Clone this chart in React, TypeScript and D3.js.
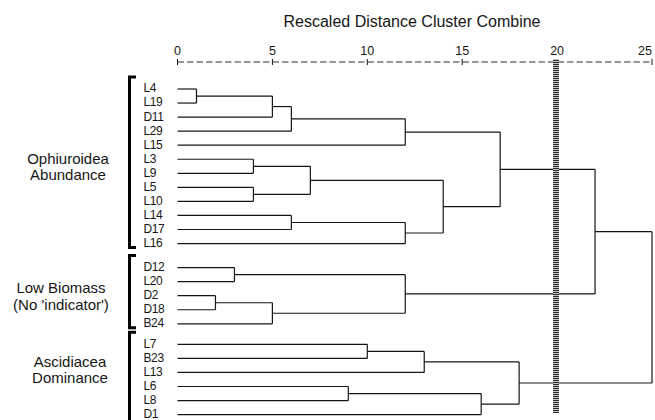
import React, { useEffect, useRef } from "react";
import * as d3 from "d3";

// leaves in dendrogram order, split by the bracketed groups
const groupNames = [
  ["Ophiuroidea", "Abundance"],
  ["Low Biomass", "(No 'indicator')"],
  ["Ascidiacea", "Dominance"],
];
const groupLeaves = [
  ["L4", "L19", "D11", "L29", "L15", "L3", "L9", "L5", "L10", "L14", "D17", "L16"],
  ["D12", "L20", "D2", "D18", "B24"],
  ["L7", "B23", "L13", "L6", "L8", "D1"],
];

// agglomeration steps: [id, child 1, child 2, rescaled distance]
const merges: [string, string, string, number][] = [
  ["a", "L4", "L19", 1],
  ["b", "a", "D11", 5],
  ["c", "b", "L29", 6],
  ["d", "c", "L15", 12],
  ["e", "L3", "L9", 4],
  ["f", "L5", "L10", 4],
  ["g", "e", "f", 7],
  ["h", "L14", "D17", 6],
  ["i", "h", "L16", 12],
  ["j", "g", "i", 14],
  ["k", "d", "j", 17],
  ["l", "D12", "L20", 3],
  ["m", "D2", "D18", 2],
  ["n", "m", "B24", 5],
  ["o", "l", "n", 12],
  ["p", "k", "o", 22],
  ["q", "L7", "B23", 10],
  ["r", "q", "L13", 13],
  ["s", "L6", "L8", 9],
  ["t", "s", "D1", 16],
  ["u", "r", "t", 18],
  ["root", "p", "u", 25],
];

const axisTicks = [0, 5, 10, 15, 20, 25];
const cutOff = 20;

const FONT = "'Liberation Sans', Arial, Helvetica, sans-serif";

const App = () => {
  const ref = useRef<SVGSVGElement>(null);

  useEffect(() => {
    const svg = d3.select(ref.current);
    svg.selectAll("*").remove();

    const x = d3.scaleLinear().domain([0, 25]).range([177.5, 652]);
    const rowStep = 14.05;
    const firstRow = 89;
    const groupGap = [0, 10, 6.5];

    // leaf y positions
    const leafY: Record<string, number> = {};
    let yy = firstRow;
    groupLeaves.forEach((g, gi) => {
      if (gi > 0) yy += groupGap[gi];
      g.forEach((name) => {
        leafY[name] = yy;
        yy += rowStep;
      });
    });

    // build nested tree
    const nodes: Record<string, any> = {};
    groupLeaves.flat().forEach((n) => (nodes[n] = { name: n, height: 0 }));
    merges.forEach(([id, c1, c2, h]) => {
      nodes[id] = { name: id, height: h, children: [nodes[c1], nodes[c2]] };
    });
    const root = d3.hierarchy(nodes["root"]);
    const pos = new Map<any, number>();
    root.eachAfter((n: any) => {
      if (n.children) {
        pos.set(n, (pos.get(n.children[0])! + pos.get(n.children[1])!) / 2);
      } else {
        pos.set(n, leafY[n.data.name]);
      }
    });

    const ink = "#161616";

    // title
    svg
      .append("text")
      .attr("x", 412)
      .attr("y", 27)
      .attr("text-anchor", "middle")
      .attr("font-family", FONT)
      .attr("font-size", 16)
      .attr("fill", ink)
      .text("Rescaled Distance Cluster Combine");

    // axis: dashed line with + ticks
    const axisY = 62;
    svg
      .append("line")
      .attr("x1", x(0))
      .attr("x2", x(25))
      .attr("y1", axisY)
      .attr("y2", axisY)
      .attr("stroke", "#333")
      .attr("stroke-width", 1.1)
      .attr("stroke-dasharray", "6.5 3");
    const tk = svg.append("g");
    tk.selectAll("line")
      .data(axisTicks)
      .enter()
      .append("line")
      .attr("x1", (d) => x(d))
      .attr("x2", (d) => x(d))
      .attr("y1", axisY - 3)
      .attr("y2", axisY + 3)
      .attr("stroke", ink)
      .attr("stroke-width", 1);
    tk.selectAll("text")
      .data(axisTicks)
      .enter()
      .append("text")
      .attr("x", (d) => x(d))
      .attr("y", 55)
      .attr("text-anchor", (d, i) => (i === axisTicks.length - 1 ? "end" : "middle"))
      .attr("font-family", FONT)
      .attr("font-size", 12.5)
      .attr("fill", ink)
      .text((d) => d);

    // dendrogram links
    const g = svg.append("g").attr("fill", "none").attr("stroke", ink).attr("stroke-width", 1.2);
    root.each((n: any) => {
      if (!n.children) return;
      const xp = x(n.data.height);
      const [a, b] = n.children;
      g.append("line")
        .attr("x1", xp)
        .attr("x2", xp)
        .attr("y1", pos.get(a)!)
        .attr("y2", pos.get(b)!);
      n.children.forEach((c: any) => {
        g.append("line")
          .attr("x1", x(c.data.height))
          .attr("x2", xp)
          .attr("y1", pos.get(c)!)
          .attr("y2", pos.get(c)!);
      });
    });

    // leaf labels
    svg
      .append("g")
      .selectAll("text")
      .data(groupLeaves.flat())
      .enter()
      .append("text")
      .attr("x", 143.5)
      .attr("y", (d) => leafY[d] + 3.4)
      .attr("font-family", FONT)
      .attr("font-size", 12)
      .attr("letter-spacing", -0.4)
      .attr("fill", ink)
      .text((d) => d);

    // group brackets and names
    const labelX = [68, 61, 70];
    groupLeaves.forEach((gl, gi) => {
      const top = leafY[gl[0]] - 12;
      const bottom = gi === groupLeaves.length - 1 ? 440 : leafY[gl[gl.length - 1]] + 4;
      svg
        .append("path")
        .attr("d", `M136,${top} H129.5 V${bottom} H136`)
        .attr("fill", "none")
        .attr("stroke", "#000")
        .attr("stroke-width", 3);
      const mid = (leafY[gl[0]] + leafY[gl[gl.length - 1]]) / 2;
      groupNames[gi].forEach((t, li) => {
        svg
          .append("text")
          .attr("x", labelX[gi])
          .attr("y", mid + (gi === 2 ? -10 : 0) + li * 16.5 - 2.5)
          .attr("text-anchor", "middle")
          .attr("font-family", FONT)
          .attr("font-size", 15)
          .attr("fill", ink)
          .text(t);
      });
    });

    // hatched cut-off bar at distance 20
    const defs = svg.append("defs");
    const pat = defs
      .append("pattern")
      .attr("id", "hatch")
      .attr("patternUnits", "userSpaceOnUse")
      .attr("width", 6)
      .attr("height", 2);
    pat.append("rect").attr("width", 6).attr("height", 2).attr("fill", "#c4c4c4");
    pat.append("rect").attr("width", 6).attr("height", 1).attr("fill", "#2a2a2a");
    svg
      .append("rect")
      .attr("x", Math.round(x(cutOff)) - 4)
      .attr("y", 59)
      .attr("width", 6)
      .attr("height", 354)
      .attr("fill", "url(#hatch)");
  }, []);

  return (
    <svg
      ref={ref}
      width={655}
      height={420}
      style={{ position: "absolute", left: 0, top: 0, background: "#fff" }}
    ></svg>
  );
};

export default App;
